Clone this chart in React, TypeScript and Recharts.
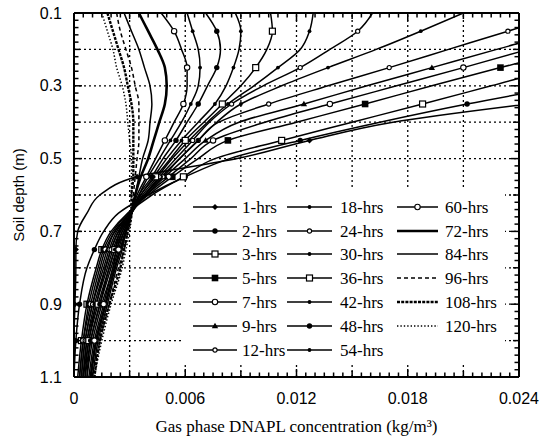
import React from 'react';
import { LineChart, Line, XAxis, YAxis, ReferenceLine, Legend } from 'recharts';

// depth grid (m)
const depths = [0.10, 0.15, 0.20, 0.25, 0.30, 0.35, 0.40, 0.45, 0.50, 0.55, 0.60, 0.65, 0.70, 0.75, 0.80, 0.90, 1.00, 1.10];

// gas phase DNAPL concentration (kg/m3) at each depth
const h1 = [0.065, 0.057, 0.049, 0.041, 0.033, 0.0245, 0.0172, 0.0127, 0.0088, 0.0034, 0.0014, 0.0007, 0.0002, 0.0001, 0.0001, 0.00005, 0, 0];
const h2 = [0.050, 0.044, 0.038, 0.032, 0.0265, 0.0212, 0.0165, 0.0122, 0.0084, 0.0060, 0.0040, 0.0024, 0.0016, 0.0011, 0.0007, 0.0003, 0.0001, 0];
const h3 = [0.040, 0.035, 0.0305, 0.0262, 0.0225, 0.0188, 0.0150, 0.0112, 0.0076, 0.0059, 0.0042, 0.0029, 0.0020, 0.0015, 0.0012, 0.0007, 0.0004, 0.0002];
const h5 = [0.034, 0.0305, 0.0268, 0.0230, 0.0193, 0.0157, 0.0120, 0.0083, 0.0067, 0.0053, 0.0040, 0.0029, 0.0021, 0.0016, 0.0013, 0.0008, 0.0005, 0.0003];
const h7 = [0.031, 0.0278, 0.0245, 0.0210, 0.0174, 0.0138, 0.0103, 0.0075, 0.0063, 0.0051, 0.0039, 0.0030, 0.0022, 0.0017, 0.0014, 0.0009, 0.0005, 0.0003];
const h9 = [0.029, 0.0262, 0.0228, 0.0193, 0.0158, 0.0124, 0.0089, 0.0071, 0.0060, 0.0049, 0.0039, 0.0030, 0.0022, 0.0018, 0.0015, 0.0010, 0.0006, 0.0004];
const h12 = [0.0265, 0.0234, 0.0202, 0.0170, 0.0137, 0.0105, 0.0078, 0.0067, 0.0057, 0.0048, 0.0038, 0.0030, 0.0023, 0.0019, 0.0016, 0.0010, 0.0006, 0.0004];
const h18 = [0.0210, 0.0187, 0.0163, 0.0137, 0.0112, 0.0090, 0.0077, 0.0067, 0.0057, 0.0047, 0.0038, 0.0030, 0.0024, 0.0020, 0.0017, 0.0011, 0.0007, 0.0005];
const h24 = [0.0161, 0.0153, 0.0138, 0.0122, 0.0102, 0.0085, 0.0073, 0.0064, 0.0055, 0.0046, 0.0038, 0.0031, 0.0024, 0.0020, 0.0017, 0.0012, 0.0007, 0.0005];
const h30 = [0.0129, 0.0127, 0.0122, 0.0110, 0.0097, 0.0083, 0.0072, 0.0062, 0.0053, 0.0045, 0.0037, 0.0031, 0.0025, 0.0021, 0.0018, 0.0012, 0.0008, 0.0005];
const h36 = [0.0106, 0.0107, 0.0104, 0.0098, 0.0090, 0.0080, 0.0070, 0.0060, 0.0052, 0.0044, 0.0036, 0.0031, 0.0025, 0.0022, 0.0019, 0.0013, 0.0008, 0.0006];
const h42 = [0.0087, 0.0090, 0.0089, 0.0086, 0.0082, 0.0076, 0.0067, 0.0058, 0.0050, 0.0043, 0.0036, 0.0031, 0.0026, 0.0022, 0.0019, 0.0014, 0.0009, 0.0006];
const h48 = [0.0071, 0.0077, 0.0079, 0.0077, 0.0072, 0.0067, 0.0061, 0.0055, 0.0048, 0.0042, 0.0035, 0.0031, 0.0026, 0.0023, 0.0020, 0.0014, 0.0009, 0.0007];
const h54 = [0.0061, 0.0064, 0.0067, 0.0068, 0.0067, 0.0063, 0.0058, 0.0052, 0.0046, 0.0040, 0.0035, 0.0031, 0.0027, 0.0023, 0.0021, 0.0015, 0.0010, 0.0007];
const h60 = [0.0047, 0.0054, 0.0058, 0.0061, 0.0061, 0.0059, 0.0054, 0.0049, 0.0044, 0.0039, 0.0034, 0.0031, 0.0027, 0.0024, 0.0021, 0.0016, 0.0011, 0.0008];
const h72 = [0.0035, 0.0040, 0.0045, 0.0049, 0.0050, 0.0049, 0.0046, 0.0043, 0.0040, 0.0036, 0.0033, 0.0031, 0.0028, 0.0025, 0.0022, 0.0017, 0.0012, 0.0009];
const h84 = [0.0027, 0.0031, 0.0035, 0.0038, 0.0041, 0.0042, 0.0041, 0.0040, 0.0037, 0.0035, 0.0033, 0.0031, 0.0028, 0.0026, 0.0023, 0.0018, 0.0013, 0.0010];
const h96 = [0.0023, 0.0025, 0.0028, 0.0031, 0.0033, 0.0035, 0.0035, 0.0035, 0.0034, 0.0033, 0.0032, 0.0031, 0.0029, 0.0027, 0.0024, 0.0019, 0.0014, 0.0010];
const h108 = [0.0018, 0.0021, 0.0024, 0.0027, 0.0029, 0.0031, 0.0032, 0.0032, 0.0032, 0.0032, 0.0031, 0.0031, 0.0029, 0.0027, 0.0025, 0.0019, 0.0014, 0.0011];
const h120 = [0.0015, 0.0018, 0.0021, 0.0023, 0.0026, 0.0028, 0.0029, 0.0030, 0.0031, 0.0031, 0.0031, 0.0031, 0.0030, 0.0028, 0.0026, 0.0020, 0.0015, 0.0011];

const seriesNames = ['1-hrs', '2-hrs', '3-hrs', '5-hrs', '7-hrs', '9-hrs', '12-hrs', '18-hrs', '24-hrs', '30-hrs', '36-hrs', '42-hrs', '48-hrs', '54-hrs', '60-hrs', '72-hrs', '84-hrs', '96-hrs', '108-hrs', '120-hrs'];
const seriesValues = [h1, h2, h3, h5, h7, h9, h12, h18, h24, h30, h36, h42, h48, h54, h60, h72, h84, h96, h108, h120];

// axis ticks / labels
const xMajor = [0, 0.006, 0.012, 0.018, 0.024];
const xMajorLabels = ['0', '0.006', '0.012', '0.018', '0.024'];
const yMajor = [0.1, 0.3, 0.5, 0.7, 0.9, 1.1];
const yMajorLabels = ['0.1', '0.3', '0.5', '0.7', '0.9', '1.1'];
const xGrid = [0.003, 0.006, 0.009, 0.012, 0.015, 0.018, 0.021];
const yGrid = [0.2, 0.3, 0.4, 0.5, 0.6, 0.7, 0.8, 0.9, 1.0];
const xMinor = Array.from({ length: 49 }, (_, i) => +(i * 0.0005).toFixed(4));
const yMinor = Array.from({ length: 51 }, (_, i) => +(0.1 + i * 0.02).toFixed(2));
const markerDepths = [0.15, 0.25, 0.35, 0.45, 0.55, 0.75, 0.9, 1.0];

// styles (not data)
const LW = 1.5;
const seriesStyles: { marker: string; width: number; dash?: string }[] = [
  { marker: 'diamond', width: LW },
  { marker: 'dot', width: LW },
  { marker: 'osq', width: LW },
  { marker: 'fsq', width: LW },
  { marker: 'ocirc', width: LW },
  { marker: 'tri', width: LW },
  { marker: 'osmall', width: LW },
  { marker: 'sdot', width: LW },
  { marker: 'osmall', width: LW },
  { marker: 'sdot', width: LW },
  { marker: 'osq', width: LW },
  { marker: 'sdot', width: LW },
  { marker: 'dot', width: LW },
  { marker: 'sdot', width: LW },
  { marker: 'ocirc', width: LW },
  { marker: 'none', width: 2.6 },
  { marker: 'none', width: LW },
  { marker: 'none', width: 1.5, dash: '4 3' },
  { marker: 'none', width: 2.4, dash: '3 1.2' },
  { marker: 'none', width: 1.5, dash: '1.4 2' },
];

const near = (a: number, b: number) => Math.abs(a - b) < 1e-7;
const SANS = '"Liberation Sans", Arial, sans-serif';
const SERIF = '"Liberation Serif", "Times New Roman", serif';
const TICK_W = 1.5;
const T_MAJ = 8;
const T_MID = 6;
const T_MIN = 4.5;

function Marker({ type, cx, cy }: { type: string; cx: number; cy: number }) {
  switch (type) {
    case 'diamond':
      return <path d={`M${cx},${cy - 3}L${cx + 3},${cy}L${cx},${cy + 3}L${cx - 3},${cy}Z`} fill="#000" />;
    case 'dot':
      return <circle cx={cx} cy={cy} r={2.7} fill="#000" />;
    case 'sdot':
      return <circle cx={cx} cy={cy} r={1.9} fill="#000" />;
    case 'osq':
      return <rect x={cx - 3} y={cy - 3} width={6} height={6} fill="#fff" stroke="#000" strokeWidth={1.2} />;
    case 'fsq':
      return <rect x={cx - 3.3} y={cy - 3.3} width={6.6} height={6.6} fill="#000" />;
    case 'ocirc':
      return <circle cx={cx} cy={cy} r={2.7} fill="#fff" stroke="#000" strokeWidth={1.1} />;
    case 'osmall':
      return <circle cx={cx} cy={cy} r={2.1} fill="#fff" stroke="#000" strokeWidth={1.1} />;
    case 'tri':
      return <path d={`M${cx},${cy - 3.2}L${cx + 3.2},${cy + 2.3}L${cx - 3.2},${cy + 2.3}Z`} fill="#000" />;
    default:
      return null;
  }
}

const makeDot = (type: string, si: number) => (p: any) => {
  const { cx, cy, index, payload } = p;
  const key = `m-${si}-${index}`;
  if (type === 'none' || cx == null || cy == null || !markerDepths.some((d) => near(d, payload.depth))) {
    return <g key={key} />;
  }
  return (
    <g key={key}>
      <Marker type={type} cx={cx} cy={cy} />
    </g>
  );
};

const xLen = (v: number) => (xMajor.some((m) => near(m, v)) ? T_MAJ : xGrid.some((g) => near(g, v)) ? T_MID : T_MIN);
const yLen = (v: number) => (yMajor.some((m) => near(m, v)) ? T_MAJ : yGrid.some((g) => near(g, v)) ? T_MID : T_MIN);

const BottomTick = (p: any) => {
  const { x, y, payload } = p;
  const v = payload.value;
  const idx = xMajor.findIndex((m) => near(m, v));
  return (
    <g>
      <line x1={x} y1={y} x2={x} y2={y - xLen(v)} stroke="#000" strokeWidth={TICK_W} />
      {idx >= 0 && (
        <text x={x} y={y + 21} textAnchor="middle" dominantBaseline="central" fontFamily={SANS} fontSize={16} fill="#000">
          {xMajorLabels[idx]}
        </text>
      )}
    </g>
  );
};

const TopTick = (p: any) => {
  const { x, y, payload } = p;
  return <line x1={x} y1={y} x2={x} y2={y + xLen(payload.value)} stroke="#000" strokeWidth={TICK_W} />;
};

const LeftTick = (p: any) => {
  const { x, y, payload } = p;
  const v = payload.value;
  const idx = yMajor.findIndex((m) => near(m, v));
  return (
    <g>
      <line x1={x} y1={y} x2={x + yLen(v)} y2={y} stroke="#000" strokeWidth={TICK_W} />
      {idx >= 0 && (
        <text x={x - 12} y={y} textAnchor="end" dominantBaseline="central" fontFamily={SANS} fontSize={16} fill="#000">
          {yMajorLabels[idx]}
        </text>
      )}
    </g>
  );
};

const RightTick = (p: any) => {
  const { x, y, payload } = p;
  return <line x1={x} y1={y} x2={x - yLen(payload.value)} y2={y} stroke="#000" strokeWidth={TICK_W} />;
};

const XTitle = (p: any) => {
  const vb = p.viewBox || { x: 74, y: 377, width: 445, height: 66 };
  return (
    <text x={vb.x + vb.width / 2} y={vb.y + 49} textAnchor="middle" dominantBaseline="central" fontFamily={SERIF} fontSize={17} fill="#000">
      Gas phase DNAPL concentration (kg/m³)
    </text>
  );
};

const YTitle = (p: any) => {
  const vb = p.viewBox || { x: 0, y: 13, width: 74, height: 364 };
  const cx = vb.x + 18;
  const cy = vb.y + vb.height / 2;
  return (
    <text x={cx} y={cy} transform={`rotate(-90 ${cx} ${cy})`} textAnchor="middle" dominantBaseline="central" fontFamily={SANS} fontSize={15} fill="#000">
      Soil depth (m)
    </text>
  );
};

const rowY = [17, 41, 64, 88, 112, 136, 160];
const colLine = [
  [10, 54],
  [104, 149],
  [214, 255],
];
const colText = [59, 157, 262];

const LegendContent = () => (
  <svg width={322} height={174} style={{ display: 'block' }}>
    <rect x={0} y={0} width={322} height={174} fill="#fff" />
    {seriesNames.map((name, i) => {
      const col = Math.floor(i / 7);
      const row = i % 7;
      const st = seriesStyles[i];
      const y = rowY[row];
      const [x1, x2] = colLine[col];
      return (
        <g key={name}>
          <line x1={x1} y1={y} x2={x2} y2={y} stroke="#000" strokeWidth={st.width} strokeDasharray={st.dash} />
          <Marker type={st.marker} cx={(x1 + x2) / 2} cy={y} />
          <text x={colText[col]} y={y} dominantBaseline="central" fontFamily={SERIF} fontSize={17} fill="#000">
            {name}
          </text>
        </g>
      );
    })}
  </svg>
);

export default function App() {
  return (
    <div style={{ position: 'absolute', left: 0, top: 0, width: 540, height: 443, background: '#fff' }}>
      <LineChart width={540} height={443} layout="vertical" margin={{ top: 12, right: 20, bottom: 0, left: 0 }}>
        <XAxis
          xAxisId={0}
          type="number"
          domain={[0, 0.024]}
          allowDataOverflow
          ticks={xMinor}
          interval={0}
          height={66}
          tickSize={0}
          tickMargin={0}
          tickLine={false}
          axisLine={{ stroke: '#000', strokeWidth: 2 }}
          tick={BottomTick}
          label={XTitle}
        />
        <XAxis
          xAxisId="top"
          orientation="top"
          type="number"
          domain={[0, 0.024]}
          allowDataOverflow
          ticks={xMinor}
          interval={0}
          height={1}
          tickSize={0}
          tickMargin={0}
          tickLine={false}
          axisLine={{ stroke: '#000', strokeWidth: 2 }}
          tick={TopTick}
        />
        <YAxis
          yAxisId={0}
          type="number"
          dataKey="depth"
          domain={[0.1, 1.1]}
          allowDataOverflow
          ticks={yMinor}
          interval={0}
          width={74}
          tickSize={0}
          tickMargin={0}
          tickLine={false}
          axisLine={{ stroke: '#000', strokeWidth: 2 }}
          tick={LeftTick}
          label={YTitle}
        />
        <YAxis
          yAxisId="right"
          orientation="right"
          type="number"
          dataKey="depth"
          domain={[0.1, 1.1]}
          allowDataOverflow
          ticks={yMinor}
          interval={0}
          width={1}
          tickSize={0}
          tickMargin={0}
          tickLine={false}
          axisLine={{ stroke: '#000', strokeWidth: 2 }}
          tick={RightTick}
        />
        {xGrid.map((g) => (
          <ReferenceLine key={`gx-${g}`} x={g} xAxisId={0} yAxisId={0} stroke="#000" strokeWidth={1.3} strokeDasharray="2 3" />
        ))}
        {yGrid.map((g) => (
          <ReferenceLine key={`gy-${g}`} y={g} xAxisId={0} yAxisId={0} stroke="#000" strokeWidth={1.3} strokeDasharray="2 3" />
        ))}
        {seriesValues.map((vals, si) => {
          const st = seriesStyles[si];
          const data = depths.map((d, i) => ({ depth: d, c: vals[i] }));
          return (
            <Line
              key={seriesNames[si]}
              name={seriesNames[si]}
              data={data}
              dataKey="c"
              xAxisId={0}
              yAxisId={0}
              type="monotone"
              stroke="#000"
              strokeWidth={st.width}
              strokeDasharray={st.dash}
              dot={makeDot(st.marker, si)}
              activeDot={false}
              isAnimationActive={false}
            />
          );
        })}
        <Legend
          layout="horizontal"
          verticalAlign="middle"
          align="center"
          wrapperStyle={{ left: 183, top: 190, width: 322, height: 174 }}
          content={LegendContent}
        />
      </LineChart>
    </div>
  );
}
